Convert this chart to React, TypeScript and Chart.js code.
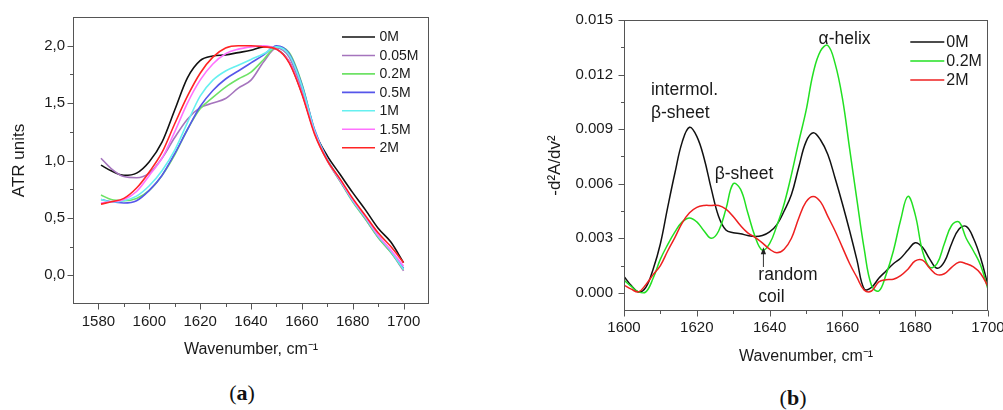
import React, { useEffect, useRef } from "react";
import { Chart, registerables } from "chart.js";

Chart.register(...registerables);

const SANS = "'Liberation Sans', Arial, Helvetica, sans-serif";
const SERIF = "'Liberation Serif', 'Times New Roman', serif";
const TEXT = "#1a1a1a";
const FRAME = "#555555";
Chart.defaults.font.family = SANS;

// ---------------- Panel (a): ATR spectra ----------------
const atrWavenumber = [1581, 1585, 1590, 1595, 1600, 1605, 1610, 1615, 1620, 1625, 1630, 1635, 1640, 1645, 1650, 1655, 1660, 1665, 1670, 1675, 1680, 1685, 1690, 1695, 1700];
const atr0M = [0.96, 0.91, 0.87, 0.89, 0.99, 1.16, 1.44, 1.72, 1.87, 1.91, 1.92, 1.94, 1.96, 1.99, 1.97, 1.86, 1.59, 1.25, 1.04, 0.88, 0.72, 0.57, 0.41, 0.29, 0.11];
const atr005M = [1.02, 0.93, 0.86, 0.85, 0.89, 1.02, 1.20, 1.36, 1.46, 1.50, 1.54, 1.63, 1.70, 1.86, 1.98, 1.90, 1.62, 1.24, 1.00, 0.82, 0.65, 0.49, 0.33, 0.20, 0.04];
const atr02M = [0.70, 0.66, 0.65, 0.67, 0.74, 0.87, 1.05, 1.27, 1.45, 1.55, 1.64, 1.71, 1.77, 1.88, 1.99, 1.94, 1.67, 1.26, 1.00, 0.82, 0.64, 0.49, 0.33, 0.20, 0.05];
const atr05M = [0.66, 0.64, 0.63, 0.65, 0.74, 0.87, 1.06, 1.27, 1.47, 1.61, 1.71, 1.78, 1.85, 1.92, 2.00, 1.93, 1.66, 1.27, 1.01, 0.83, 0.65, 0.50, 0.34, 0.21, 0.06];
const atr1M = [0.66, 0.64, 0.65, 0.69, 0.78, 0.91, 1.09, 1.33, 1.56, 1.70, 1.78, 1.83, 1.88, 1.93, 1.99, 1.92, 1.65, 1.26, 1.01, 0.83, 0.65, 0.50, 0.34, 0.21, 0.05];
const atr15M = [0.63, 0.64, 0.66, 0.73, 0.87, 1.02, 1.25, 1.50, 1.70, 1.84, 1.93, 1.97, 1.99, 2.00, 1.97, 1.86, 1.59, 1.24, 1.00, 0.83, 0.66, 0.51, 0.35, 0.22, 0.08];
const atr2M = [0.62, 0.64, 0.67, 0.76, 0.90, 1.07, 1.32, 1.56, 1.76, 1.90, 1.98, 2.00, 2.00, 1.99, 1.97, 1.85, 1.58, 1.23, 1.00, 0.84, 0.67, 0.52, 0.37, 0.25, 0.11];
const atrSeriesNames = ["0M", "0.05M", "0.2M", "0.5M", "1M", "1.5M", "2M"];
const atrSeriesColors = ["#111111", "#a574bd", "#6ee266", "#5656ea", "#66f0f0", "#ff72ff", "#ff2424"];
const atrXTicks = [1580, 1590, 1600, 1610, 1620, 1630, 1640, 1650, 1660, 1670, 1680, 1690, 1700];
const atrXTickLabels = [1580, 1600, 1620, 1640, 1660, 1680, 1700];
const atrYTicks = [0, 0.25, 0.5, 0.75, 1, 1.25, 1.5, 1.75, 2];
const atrYTickLabels = [0, 0.5, 1, 1.5, 2];

// ---------------- Panel (b): second derivative ----------------
const derivWavenumber = [1600, 1602, 1604, 1606, 1608, 1610, 1612, 1614, 1616, 1618, 1620, 1622, 1624, 1626, 1628, 1630, 1632, 1634, 1636, 1638, 1640, 1642, 1644, 1646, 1648, 1650, 1652, 1654, 1656, 1658, 1660, 1662, 1664, 1666, 1668, 1670, 1672, 1674, 1676, 1678, 1680, 1682, 1684, 1686, 1688, 1690, 1692, 1694, 1696, 1698, 1700];
const deriv0M = [0.0009, 0.0004, 0.00005, 0.0003, 0.0013, 0.0027, 0.0047, 0.0066, 0.0083, 0.0091, 0.0086, 0.0074, 0.0057, 0.0042, 0.00345, 0.0033, 0.00325, 0.00315, 0.0031, 0.00315, 0.00335, 0.00375, 0.0045, 0.0054, 0.0069, 0.0083, 0.0088, 0.0084, 0.0076, 0.0063, 0.0049, 0.0034, 0.0018, 0.0002, 0.0003, 0.0008, 0.0012, 0.0016, 0.0019, 0.00235, 0.00275, 0.0025, 0.00185, 0.00135, 0.0017, 0.0027, 0.0035, 0.00365, 0.003, 0.0019, 0.0004];
const deriv02M = [0.0007, 0.00035, 0.00005, 0.00005, 0.0008, 0.00185, 0.00265, 0.00335, 0.0039, 0.00412, 0.0039, 0.0034, 0.003, 0.0034, 0.0046, 0.006, 0.0057, 0.0044, 0.0031, 0.00235, 0.0027, 0.0037, 0.0049, 0.0065, 0.0083, 0.01, 0.0121, 0.0133, 0.0136, 0.0126, 0.0107, 0.0079, 0.0051, 0.0024, 0.0004, 0.0001, 0.001, 0.0023, 0.004, 0.0053, 0.0043, 0.0023, 0.0014, 0.0016, 0.0027, 0.0037, 0.0039, 0.003, 0.0023, 0.0015, 0.0002];
const deriv2M = [0.00042, 0.0002, 0.00005, 0.00045, 0.001, 0.0015, 0.0023, 0.00305, 0.00385, 0.0044, 0.0047, 0.0048, 0.0048, 0.0048, 0.0046, 0.0042, 0.0037, 0.0033, 0.00305, 0.00275, 0.0024, 0.0022, 0.0024, 0.003, 0.0041, 0.005, 0.0053, 0.005, 0.0042, 0.0034, 0.0025, 0.0016, 0.00085, 0.00015, 0.0001, 0.0006, 0.00072, 0.00075, 0.00095, 0.0013, 0.00175, 0.0018, 0.00135, 0.001, 0.00105, 0.0014, 0.00168, 0.0016, 0.00142, 0.00105, 0.00035];
const derivSeriesNames = ["0M", "0.2M", "2M"];
const derivSeriesColors = ["#111111", "#22e022", "#ee2020"];
const derivXTicks = [1600, 1610, 1620, 1630, 1640, 1650, 1660, 1670, 1680, 1690, 1700];
const derivXTickLabels = [1600, 1620, 1640, 1660, 1680, 1700];
const derivYTicks = [0, 0.0015, 0.003, 0.0045, 0.006, 0.0075, 0.009, 0.0105, 0.012, 0.0135, 0.015];
const derivYTickLabels = [0, 0.003, 0.006, 0.009, 0.012, 0.015];
const derivAnnotationTexts = ["α-helix", "intermol.", "β-sheet", "β-sheet", "random", "coil"];
const derivAnnotationX = [1660.6, 1607.4, 1607.4, 1624.9, 1636.9, 1636.9];
const derivAnnotationY = [0.01395, 0.01114, 0.00986, 0.0065, 0.00096, -0.00022];
const derivAnnotationAlign = ["center", "left", "left", "left", "left", "left"];
const derivArrowX = 1638.3;
const derivArrowFrom = 0.00142;
const derivArrowTo = 0.0025;

const near = (list: number[], v: number) => list.some((m) => Math.abs(m - v) < 1e-7);

type LegendCfg = { top: number; gap: number; lineStart: number; lineEnd: number; textOffset: number; size: number; lineWidth: number };
type DecorCfg = {
  xMajor: number[];
  yMajor: number[];
  legend: LegendCfg;
  annotations?: { text: string; x: number; y: number; align: string }[];
  annotationSize?: number;
  arrow?: { x: number; from: number; to: number };
};

function makeDecor(cfg: DecorCfg) {
  return {
    id: "decor",
    afterDraw(chart: any) {
      const { ctx, chartArea: a, scales } = chart;
      const xs = scales.x;
      const ys = scales.y;
      ctx.save();
      const L = Math.round(a.left) + 0.5;
      const R = Math.round(a.right) - 0.5;
      const T = Math.round(a.top) + 0.5;
      const B = Math.round(a.bottom) - 0.5;
      ctx.strokeStyle = FRAME;
      ctx.lineWidth = 1;
      ctx.strokeRect(L, T, R - L, B - T);
      ctx.beginPath();
      xs.ticks.forEach((t: any) => {
        const p = Math.round(xs.getPixelForValue(t.value)) + 0.5;
        const len = near(cfg.xMajor, t.value) ? 6 : 3.5;
        ctx.moveTo(p, B);
        ctx.lineTo(p, B + len);
      });
      ys.ticks.forEach((t: any) => {
        const p = Math.round(ys.getPixelForValue(t.value)) + 0.5;
        const len = near(cfg.yMajor, t.value) ? 6 : 3.5;
        ctx.moveTo(L, p);
        ctx.lineTo(L - len, p);
      });
      ctx.stroke();

      if (cfg.annotations) {
        ctx.fillStyle = TEXT;
        ctx.font = `${cfg.annotationSize}px ${SANS}`;
        ctx.textBaseline = "middle";
        cfg.annotations.forEach((an) => {
          ctx.textAlign = an.align as CanvasTextAlign;
          ctx.fillText(an.text, xs.getPixelForValue(an.x), ys.getPixelForValue(an.y));
        });
      }
      if (cfg.arrow) {
        const px = xs.getPixelForValue(cfg.arrow.x);
        const y1 = ys.getPixelForValue(cfg.arrow.from);
        const y2 = ys.getPixelForValue(cfg.arrow.to);
        ctx.strokeStyle = "#333";
        ctx.fillStyle = "#222";
        ctx.lineWidth = 1;
        ctx.beginPath();
        ctx.moveTo(px, y1);
        ctx.lineTo(px, y2 + 5);
        ctx.stroke();
        ctx.beginPath();
        ctx.moveTo(px, y2);
        ctx.lineTo(px - 2.6, y2 + 7);
        ctx.lineTo(px + 2.6, y2 + 7);
        ctx.closePath();
        ctx.fill();
      }

      const lg = cfg.legend;
      ctx.font = `${lg.size}px ${SANS}`;
      ctx.textBaseline = "middle";
      ctx.textAlign = "left";
      chart.data.datasets.forEach((ds: any, i: number) => {
        const y = a.top + lg.top + i * lg.gap;
        ctx.strokeStyle = ds.borderColor;
        ctx.lineWidth = lg.lineWidth;
        ctx.beginPath();
        ctx.moveTo(a.right - lg.lineStart, y);
        ctx.lineTo(a.right - lg.lineEnd, y);
        ctx.stroke();
        ctx.fillStyle = TEXT;
        ctx.fillText(ds.label, a.right - lg.textOffset, y + 0.5);
      });
      ctx.restore();
    },
  };
}

function lineDatasets(xsArr: number[], series: number[][], names: string[], colors: string[], width: number, monotone: boolean) {
  return series.map((ys, i) => ({
    label: names[i],
    data: xsArr.map((x, j) => ({ x, y: ys[j] })),
    borderColor: colors[i],
    backgroundColor: colors[i],
    borderWidth: width,
    pointRadius: 0,
    cubicInterpolationMode: monotone ? "monotone" : "default",
    tension: monotone ? 0 : 0.4,
    fill: false,
    order: series.length - i,
  }));
}

function atrConfig(): any {
  return {
    type: "line",
    data: {
      datasets: lineDatasets(atrWavenumber, [atr0M, atr005M, atr02M, atr05M, atr1M, atr15M, atr2M], atrSeriesNames, atrSeriesColors, 1.6, true),
    },
    options: {
      responsive: false,
      animation: false,
      layout: { padding: { left: 0, top: 16, right: 21, bottom: 0 } },
      plugins: { legend: { display: false }, tooltip: { enabled: false } },
      scales: {
        x: {
          type: "linear",
          min: 1570,
          max: 1710,
          afterBuildTicks: (s: any) => { s.ticks = atrXTicks.map((v) => ({ value: v })); },
          afterFit: (s: any) => { s.height = 66; },
          grid: { display: false, drawTicks: false },
          border: { display: false },
          ticks: {
            autoSkip: false, maxRotation: 0, padding: 9, color: TEXT, font: { size: 15 },
            callback: (v: number) => (near(atrXTickLabels, v) ? String(v) : ""),
          },
          title: { display: true, text: "Wavenumber, cm⁻¹", color: TEXT, font: { size: 16 }, padding: { top: 0, bottom: 10.4 } },
        },
        y: {
          type: "linear",
          min: -0.25,
          max: 2.25,
          afterBuildTicks: (s: any) => { s.ticks = atrYTicks.map((v) => ({ value: v })); },
          afterFit: (s: any) => { s.width = 73; },
          grid: { display: false, drawTicks: false },
          border: { display: false },
          ticks: {
            autoSkip: false, padding: 8, color: TEXT, font: { size: 15 },
            callback: (v: number) => (near(atrYTickLabels, v) ? v.toFixed(1).replace(".", ",") : ""),
          },
          title: { display: true, text: "ATR units", color: TEXT, font: { size: 17 }, padding: { top: 9, bottom: 0 } },
        },
      },
    },
    plugins: [
      makeDecor({
        xMajor: atrXTickLabels,
        yMajor: atrYTickLabels,
        legend: { top: 20, gap: 18.45, lineStart: 87, lineEnd: 54, textOffset: 49.5, size: 14, lineWidth: 1.6 },
      }),
    ],
  };
}

function derivConfig(): any {
  return {
    type: "line",
    data: {
      datasets: lineDatasets(derivWavenumber, [deriv0M, deriv02M, deriv2M], derivSeriesNames, derivSeriesColors, 1.5, false),
    },
    options: {
      responsive: false,
      animation: false,
      layout: { padding: { left: 0, top: 17, right: 52, bottom: 0 } },
      plugins: { legend: { display: false }, tooltip: { enabled: false } },
      scales: {
        x: {
          type: "linear",
          min: 1600,
          max: 1700,
          afterBuildTicks: (s: any) => { s.ticks = derivXTicks.map((v) => ({ value: v })); },
          afterFit: (s: any) => { s.height = 64; },
          grid: { display: false, drawTicks: false },
          border: { display: false },
          ticks: {
            autoSkip: false, maxRotation: 0, padding: 8, color: TEXT, font: { size: 15 },
            callback: (v: number) => (near(derivXTickLabels, v) ? String(v) : ""),
          },
          title: { display: true, text: "Wavenumber, cm⁻¹", color: TEXT, font: { size: 16 }, padding: { top: 0, bottom: 8.4 } },
        },
        y: {
          type: "linear",
          min: -0.001,
          max: 0.015,
          afterBuildTicks: (s: any) => { s.ticks = derivYTicks.map((v) => ({ value: v })); },
          afterFit: (s: any) => { s.width = 124; },
          grid: { display: false, drawTicks: false },
          border: { display: false },
          ticks: {
            autoSkip: false, padding: 11, color: TEXT, font: { size: 15 },
            callback: (v: number) => (near(derivYTickLabels, v) ? v.toFixed(3) : ""),
          },
          title: { display: true, text: "-d²A/dv²", color: TEXT, font: { size: 17 }, padding: { top: 44.8, bottom: 0 } },
        },
      },
    },
    plugins: [
      makeDecor({
        xMajor: derivXTickLabels,
        yMajor: derivYTickLabels,
        legend: { top: 22, gap: 19, lineStart: 77.7, lineEnd: 43.7, textOffset: 41.7, size: 16, lineWidth: 1.5 },
        annotations: derivAnnotationTexts.map((text, i) => ({ text, x: derivAnnotationX[i], y: derivAnnotationY[i], align: derivAnnotationAlign[i] })),
        annotationSize: 17.5,
        arrow: { x: derivArrowX, from: derivArrowFrom, to: derivArrowTo },
      }),
    ],
  };
}

const captionStyle = (cx: number, cy: number): React.CSSProperties => ({
  position: "absolute",
  left: cx - 50,
  top: cy - 13,
  width: 100,
  height: 26,
  lineHeight: "26px",
  textAlign: "center",
  fontFamily: SERIF,
  fontSize: 22,
  color: "#111",
});

export default function App() {
  const leftRef = useRef<HTMLCanvasElement>(null);
  const rightRef = useRef<HTMLCanvasElement>(null);

  useEffect(() => {
    const c1 = new Chart(leftRef.current as HTMLCanvasElement, atrConfig());
    const c2 = new Chart(rightRef.current as HTMLCanvasElement, derivConfig());
    return () => {
      c1.destroy();
      c2.destroy();
    };
  }, []);

  return (
    <div style={{ position: "absolute", left: 0, top: 0, width: 1003, height: 410, overflow: "hidden", background: "#fff" }}>
      <canvas ref={leftRef} width={450} height={370} style={{ position: "absolute", left: 0, top: 0 }} />
      <canvas ref={rightRef} width={540} height={375} style={{ position: "absolute", left: 500, top: 0 }} />
      <div style={captionStyle(242, 393)}>(<b>a</b>)</div>
      <div style={captionStyle(793, 398)}>(<b>b</b>)</div>
    </div>
  );
}
